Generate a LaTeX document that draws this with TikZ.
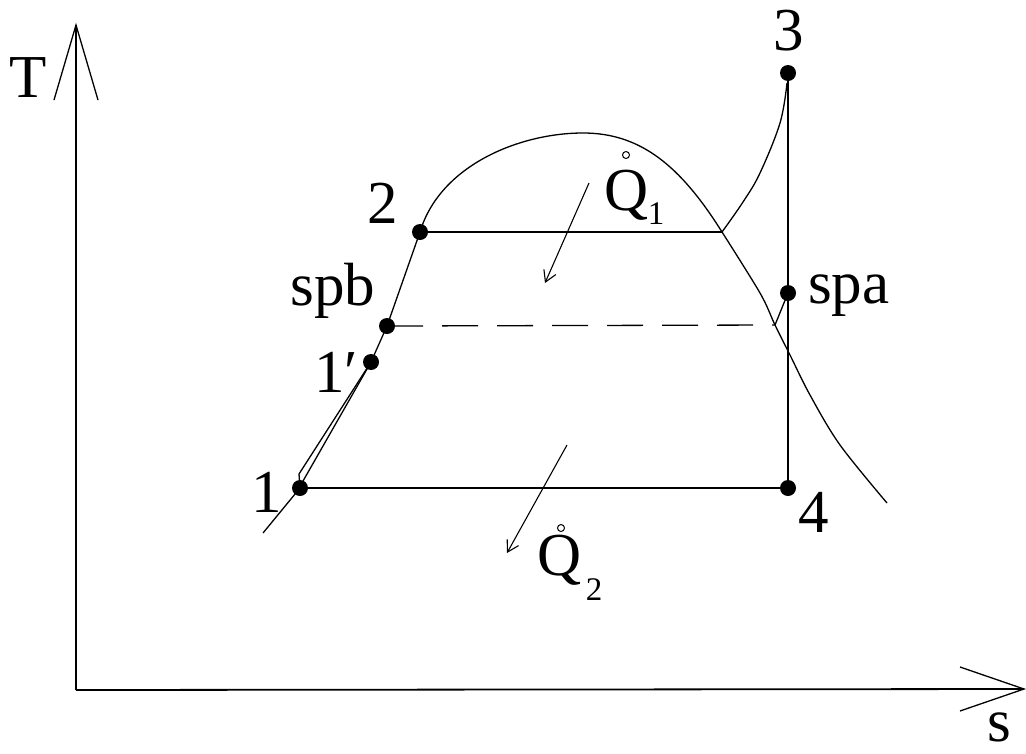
\documentclass[tikz,border=0pt]{standalone}
\usepackage{fontspec}
\setmainfont{Liberation Serif}
\usetikzlibrary{arrows.meta}
\begin{document}
\begin{tikzpicture}[x=1pt,y=-1pt,
  line/.style={line width=1.3pt},
  axisline/.style={line width=1.8pt},
  dot/.style={circle,fill=black,inner sep=0pt,minimum size=16pt},
  lbl/.style={font=\fontsize{61}{66}\selectfont,inner sep=0pt,anchor=base},
  sublbl/.style={font=\fontsize{33}{36}\selectfont,inner sep=0pt,anchor=base},
  qarrow/.style={line width=1.1pt,-{Straight Barb[length=11pt,width=13pt]}},
  ring/.style={line width=1pt}
]
\useasboundingbox (0,0) rectangle (1026,753);
% axes
\coordinate (O) at (76,690);
\coordinate (Ttip) at (76,25);
\coordinate (Tl) at (54,100);
\coordinate (Tr) at (98,100);
\coordinate (Stip) at (1024,689);
\coordinate (Su) at (960,667);
\coordinate (Sd) at (960,711);
\draw[axisline] (O) -- (Ttip);
\draw[line] (Tl) -- (Ttip) -- (Tr);
\draw[axisline] (O) -- (Stip);
\draw[line] (Su) -- (Stip) -- (Sd);
\node[lbl] (T) at (28,97) {T};
\node[lbl] (s) at (999,741) {s};
% state points
\node[dot] (p1) at (300,488) {};
\node[dot] (p1p) at (371,362) {};
\node[dot] (spb) at (387,326) {};
\node[dot] (p2) at (420,232) {};
\node[dot] (p3) at (788,73) {};
\node[dot] (spa) at (788,293) {};
\node[dot] (p4) at (788,488) {};
\coordinate (top) at (583,133);
\coordinate (sv) at (722,232);
\coordinate (mix) at (775,325);
\coordinate (low) at (263,533);
\coordinate (c1a) at (299,474);
\coordinate (c1b) at (303,481);
% saturation dome
\draw[line] (p2.center) .. controls (440,165) and (520,133) .. (top)
  .. controls (640,133) and (680,165) .. (sv);
\draw[line] plot[smooth,tension=0.55] coordinates {(722,232) (760,293) (775,325) (790,355) (810,395) (840,445) (887,503)};
\draw[line] (low) -- (p1.center);
\draw[line] (p1.center) -- (c1a) -- (p1p.center);
\draw[line] (c1b) -- (p1p.center);
\draw[line] (p1p.center) -- (spb.center) -- (p2.center);
% cycle lines
\draw[line] (p2.center) -- (sv);
\draw[line,dash pattern=on 36pt off 19pt] (spb.center) -- (mix);
\draw[line] (mix) -- (spa.center);
\draw[line] (p1.center) -- (p4.center);
\draw[line] (p3.center) -- (p4.center);
\draw[line] plot[smooth,tension=0.6] coordinates {(787,83) (780,123) (760,173) (743,202) (722,232)};
% labels of points
\node[lbl] (l1) at (267,512) {1};
\node[lbl,anchor=base west] (l1p) at (314,392) {1′};
\node[lbl] (lspb) at (333,305) {spb};
\node[lbl] (l2) at (383,223) {2};
\node[lbl] (l3) at (789,50) {3};
\node[lbl,anchor=base west] (lspa) at (808,303) {spa};
\node[lbl] (l4) at (814,532) {4};
% heat flows
\coordinate (a1s) at (589,183);
\coordinate (a1e) at (545,283);
\coordinate (a2s) at (567,445);
\coordinate (a2e) at (507,553);
\draw[qarrow] (a1s) -- (a1e);
\draw[qarrow] (a2s) -- (a2e);
\node[lbl] (Q1) at (627,210) {Q};
\node[sublbl] (Q1s) at (656,224) {1};
\coordinate (r1) at (626,155);
\draw[ring] (r1) circle (3.5pt);
\node[lbl] (Q2) at (560,575) {Q};
\node[sublbl] (Q2s) at (594,600) {2};
\coordinate (r2) at (561,528);
\draw[ring] (r2) circle (3.5pt);
\end{tikzpicture}
\end{document}
